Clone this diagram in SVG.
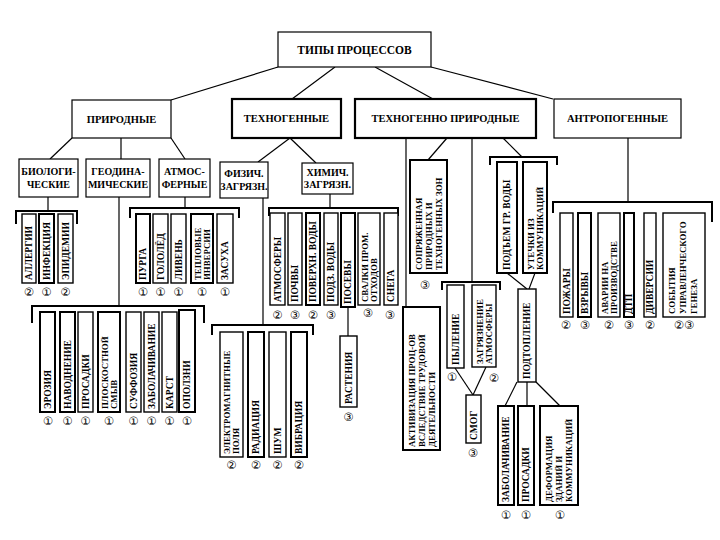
<svg xmlns="http://www.w3.org/2000/svg" width="720" height="540" viewBox="0 0 720 540">
<style>
rect{fill:#fff;stroke:#000;stroke-width:1.2}
rect.b{stroke-width:2.2}
.lf rect{stroke-width:1.4}
.lf rect.b{stroke-width:2}
text{font-family:"Liberation Serif","Times New Roman",serif;font-weight:bold;fill:#000}
.t1{font-size:11.5px;text-anchor:middle}
.t2{font-size:10.5px;text-anchor:middle}
.t3{font-size:10px;text-anchor:middle}
.lf text{font-size:9.5px}
.lf text.s{font-size:8.8px}
.num{font-family:"DejaVu Sans",sans-serif;font-weight:normal;font-size:11.5px;text-anchor:middle}
#connectors path,#connectors line{stroke:#000;fill:none;stroke-width:1.2}
#connectors .br{stroke-width:2}
</style>
<rect x="0" y="0" width="720" height="540" style="stroke:none"/>
<g id="connectors">
<line x1="278" y1="67" x2="171" y2="100"/>
<line x1="335" y1="67" x2="292" y2="99"/>
<line x1="375" y1="67" x2="433" y2="99"/>
<line x1="431" y1="67" x2="553" y2="99"/>
<line x1="72" y1="138" x2="50" y2="159"/>
<line x1="121" y1="138" x2="121" y2="159"/>
<line x1="171" y1="138" x2="185" y2="159"/>
<line x1="290" y1="138" x2="258" y2="162"/>
<line x1="290" y1="138" x2="316" y2="163"/>
<line x1="48" y1="197" x2="48" y2="211"/>
<line x1="119" y1="197" x2="119" y2="306"/>
<line x1="185" y1="197" x2="185" y2="208"/>
<line x1="263" y1="198" x2="263" y2="325"/>
<line x1="330" y1="194" x2="330" y2="208"/>
<line x1="348" y1="307" x2="348" y2="336"/>
<line x1="406" y1="138" x2="406" y2="307"/>
<line x1="447" y1="138" x2="428" y2="160"/>
<line x1="472" y1="138" x2="472" y2="282"/>
<line x1="503" y1="138" x2="522" y2="157"/>
<line x1="507" y1="273" x2="527" y2="289"/>
<line x1="535" y1="273" x2="529" y2="289"/>
<line x1="455" y1="368" x2="473" y2="395"/>
<line x1="486" y1="367" x2="473" y2="395"/>
<line x1="517" y1="382" x2="505" y2="406"/>
<line x1="527" y1="382" x2="527" y2="406"/>
<line x1="536" y1="382" x2="560" y2="406"/>
<line x1="628" y1="138" x2="628" y2="202"/>
<path class="br" d="M16 224V211H77V224"/>
<path class="br" d="M130 218V208H239V218"/>
<path class="br" d="M32 323V306H204V323"/>
<path class="br" d="M212 335V325H313V335"/>
<path class="br" d="M269 216V208H398V216"/>
<path class="br" d="M442 290V282H500V290"/>
<path class="br" d="M490 165V157H557V165"/>
<path class="br" d="M553 213V202H712V222"/>
</g>

<g id="title"><rect x="278" y="32" width="153" height="35"/><text class="t1" x="354.5" y="54">ТИПЫ ПРОЦЕССОВ</text></g>
<g id="prirodnye"><rect x="72" y="100" width="99" height="38"/><text class="t2" x="121.5" y="123">ПРИРОДНЫЕ</text></g>
<g id="tehnogennye"><rect class="b" x="232" y="99" width="109" height="39"/><text class="t2" x="286.5" y="122">ТЕХНОГЕННЫЕ</text></g>
<g id="tehnoprirodnye"><rect class="b" x="355" y="99" width="181" height="39"/><text class="t2" x="445.5" y="122">ТЕХНОГЕННО ПРИРОДНЫЕ</text></g>
<g id="antropogennye"><rect x="554" y="99" width="127" height="39"/><text class="t2" x="617.5" y="122">АНТРОПОГЕННЫЕ</text></g>

<g id="biolog"><rect x="19" y="159" width="59" height="38"/><text class="t3" x="48.5" y="175">БИОЛОГИ-</text><text class="t3" x="48.5" y="188">ЧЕСКИЕ</text></g>
<g id="geodin"><rect x="86" y="159" width="64" height="38"/><text class="t3" x="118" y="175">ГЕОДИНА-</text><text class="t3" x="118" y="188">МИЧЕСКИЕ</text></g>
<g id="atmos"><rect x="159" y="159" width="51" height="38"/><text class="t3" x="184.5" y="175">АТМОС-</text><text class="t3" x="184.5" y="188">ФЕРНЫЕ</text></g>
<g id="fizich"><rect x="220" y="162" width="48" height="36"/><text class="t3" x="244" y="177">ФИЗИЧ.</text><text class="t3" x="244" y="190">ЗАГРЯЗН.</text></g>
<g id="himich"><rect x="302" y="163" width="51" height="31"/><text class="t3" x="327.5" y="176">ХИМИЧ.</text><text class="t3" x="327.5" y="188">ЗАГРЯЗН.</text></g>

<!-- biological leaves -->
<g id="allergii" class="lf"><rect x="22" y="214" width="14" height="69"/><text transform="translate(29,283) rotate(-90)" x="3" y="3.3">АЛЛЕРГИИ</text></g>
<g id="infekcia" class="lf"><rect class="b" x="39" y="214" width="15" height="69"/><text transform="translate(46.5,283) rotate(-90)" x="3" y="3.3">ИНФЕКЦИЯ</text></g>
<g id="epidemii" class="lf"><rect x="58" y="214" width="15" height="69"/><text transform="translate(65.5,283) rotate(-90)" x="3" y="3.3">ЭПИДЕМИИ</text></g>
<text class="num" x="29" y="296">②</text><text class="num" x="46.5" y="296">①</text><text class="num" x="65.5" y="296">②</text>

<!-- atmospheric leaves -->
<g id="purga" class="lf"><rect class="b" x="136" y="214" width="14" height="69"/><text transform="translate(143,283) rotate(-90)" x="3" y="3.3">ПУРГА</text></g>
<g id="gololed" class="lf"><rect x="153" y="214" width="15" height="69"/><text transform="translate(160.5,283) rotate(-90)" x="3" y="3.3">ГОЛОЛЁД</text></g>
<g id="liven" class="lf"><rect x="171" y="214" width="15" height="69"/><text transform="translate(178.5,283) rotate(-90)" x="3" y="3.3">ЛИВЕНЬ</text></g>
<g id="inversii" class="lf"><rect class="b" x="191" y="214" width="22" height="69"/><text class="s" transform="translate(202,283) rotate(-90)"><tspan x="3" y="-1.5">ТЕПЛОВЫЕ</tspan><tspan x="3" y="7.5">ИНВЕРСИИ</tspan></text></g>
<g id="zasuha" class="lf"><rect x="217" y="214" width="16" height="69"/><text transform="translate(225,283) rotate(-90)" x="3" y="3.3">ЗАСУХА</text></g>
<text class="num" x="143" y="296">①</text><text class="num" x="160.5" y="296">①</text><text class="num" x="178.5" y="296">①</text><text class="num" x="202" y="296">①</text><text class="num" x="225" y="296">①</text>

<!-- geodynamic leaves -->
<g id="erozia" class="lf"><rect class="b" x="40" y="312" width="15" height="100"/><text transform="translate(47.5,412) rotate(-90)" x="3" y="3.3">ЭРОЗИЯ</text></g>
<g id="navodnenie" class="lf"><rect class="b" x="60" y="312" width="15" height="100"/><text transform="translate(67.5,412) rotate(-90)" x="3" y="3.3">НАВОДНЕНИЕ</text></g>
<g id="prosadki1" class="lf"><rect x="78" y="312" width="15" height="100"/><text transform="translate(85.5,412) rotate(-90)" x="3" y="3.3">ПРОСАДКИ</text></g>
<g id="smyv" class="lf"><rect class="b" x="98" y="312" width="22" height="100"/><text class="s" transform="translate(109,412) rotate(-90)"><tspan x="3" y="-1.5">ПЛОСКОСТНОЙ</tspan><tspan x="3" y="7.5">СМЫВ</tspan></text></g>
<g id="suffozia" class="lf"><rect x="126" y="312" width="15" height="100"/><text transform="translate(133.5,412) rotate(-90)" x="3" y="3.3">СУФФОЗИЯ</text></g>
<g id="zabolach1" class="lf"><rect x="144" y="312" width="15" height="100"/><text transform="translate(151.5,412) rotate(-90)" x="3" y="3.3">ЗАБОЛАЧИВАНИЕ</text></g>
<g id="karst" class="lf"><rect x="162" y="312" width="15" height="100"/><text transform="translate(169.5,412) rotate(-90)" x="3" y="3.3">КАРСТ</text></g>
<g id="opolzni" class="lf"><rect class="b" x="179" y="310" width="16" height="102"/><text transform="translate(187,412) rotate(-90)" x="3" y="3.3">ОПОЛЗНИ</text></g>
<text class="num" x="48" y="425">①</text><text class="num" x="67.5" y="425">①</text><text class="num" x="85.5" y="425">①</text><text class="num" x="109" y="425">①</text><text class="num" x="133.5" y="425">①</text><text class="num" x="151.5" y="425">①</text><text class="num" x="169.5" y="425">①</text><text class="num" x="187" y="425">①</text>

<!-- physical pollution leaves -->
<g id="elmag" class="lf"><rect x="220" y="332" width="23" height="125"/><text class="s" transform="translate(231.5,457) rotate(-90)"><tspan x="3" y="-1.5">ЭЛЕКТРОМАГНИТНЫЕ</tspan><tspan x="3" y="7.5">ПОЛЯ</tspan></text></g>
<g id="radiacia" class="lf"><rect class="b" x="248" y="332" width="16" height="125"/><text transform="translate(256,457) rotate(-90)" x="3" y="3.3">РАДИАЦИЯ</text></g>
<g id="shum" class="lf"><rect x="269" y="332" width="17" height="125"/><text transform="translate(277.5,457) rotate(-90)" x="3" y="3.3">ШУМ</text></g>
<g id="vibracia" class="lf"><rect class="b" x="291" y="332" width="16" height="125"/><text transform="translate(299,457) rotate(-90)" x="3" y="3.3">ВИБРАЦИЯ</text></g>
<text class="num" x="231.5" y="469">②</text><text class="num" x="256" y="469">②</text><text class="num" x="277.5" y="469">②</text><text class="num" x="299" y="469">②</text>

<!-- chemical pollution leaves -->
<g id="atmosfery" class="lf"><rect x="270" y="213" width="15" height="92"/><text transform="translate(277.5,305) rotate(-90)" x="3" y="3.3">АТМОСФЕРЫ</text></g>
<g id="pochvy" class="lf"><rect x="288" y="213" width="14" height="92"/><text transform="translate(295,305) rotate(-90)" x="3" y="3.3">ПОЧВЫ</text></g>
<g id="poverhn" class="lf"><rect class="b" x="306" y="213" width="14" height="92"/><text transform="translate(313,305) rotate(-90)" x="3" y="3.3">ПОВЕРХН. ВОДЫ</text></g>
<g id="podz" class="lf"><rect x="324" y="213" width="14" height="92"/><text transform="translate(331,305) rotate(-90)" x="3" y="3.3">ПОДЗ. ВОДЫ</text></g>
<g id="posevy" class="lf"><rect class="b" x="341" y="213" width="14" height="94"/><text transform="translate(348,307) rotate(-90)" x="3" y="3.3">ПОСЕВЫ</text></g>
<g id="svalki" class="lf"><rect x="358" y="213" width="22" height="92"/><text class="s" transform="translate(369,305) rotate(-90)"><tspan x="3" y="-1.5">СВАЛКИ ПРОМ.</tspan><tspan x="3" y="7.5">ОТХОДОВ</tspan></text></g>
<g id="snega" class="lf"><rect x="384" y="213" width="14" height="92"/><text transform="translate(391,305) rotate(-90)" x="3" y="3.3">СНЕГА</text></g>
<text class="num" x="277.5" y="319">②</text><text class="num" x="295" y="319">③</text><text class="num" x="313" y="319">②</text><text class="num" x="331" y="319">③</text><text class="num" x="368" y="317">③</text><text class="num" x="390" y="319">③</text>
<g id="rastenia" class="lf"><rect x="340" y="336" width="17" height="71"/><text transform="translate(348.5,407) rotate(-90)" x="3" y="3.3">РАСТЕНИЯ</text></g>
<text class="num" x="348.5" y="421">③</text>

<!-- technogenic-natural -->
<g id="sopryazh" class="lf"><rect class="b" x="410" y="160" width="37" height="113"/><text class="s" transform="translate(428.5,273) rotate(-90)"><tspan x="3" y="-7">СОПРЯЖЕННАЯ</tspan><tspan x="3" y="3">ПРИРОДНЫХ И</tspan><tspan x="3" y="13">ТЕХНОГЕННЫХ ЗОН</tspan></text></g>
<text class="num" x="425" y="289">③</text>
<g id="aktiv" class="lf"><rect class="b" x="403" y="307" width="37" height="143"/><text class="s" transform="translate(421.5,450) rotate(-90)"><tspan x="3" y="-7">АКТИВИЗАЦИЯ ПРОЦ-ОВ</tspan><tspan x="3" y="3">ВСЛЕДСТВИЕ ТРУДОВОЙ</tspan><tspan x="3" y="13">ДЕЯТЕЛЬНОСТИ</tspan></text></g>
<g id="pylenie" class="lf"><rect x="447" y="285" width="17" height="83"/><text transform="translate(455.5,368) rotate(-90)" x="3" y="3.3">ПЫЛЕНИЕ</text></g>
<g id="zagr-atm" class="lf"><rect x="472" y="285" width="24" height="82"/><text class="s" transform="translate(484,367) rotate(-90)"><tspan x="3" y="-1.5">ЗАГРЯЗНЕНИЕ</tspan><tspan x="3" y="7.5">АТМОСФЕРЫ</tspan></text></g>
<text class="num" x="452" y="381">①</text><text class="num" x="494" y="382">②</text>
<g id="smog" class="lf"><rect x="466" y="395" width="15" height="48"/><text transform="translate(473.5,443) rotate(-90)" x="3" y="3.3">СМОГ</text></g>
<text class="num" x="473" y="457">③</text>
<g id="podyem" class="lf"><rect class="b" x="497" y="162" width="20" height="111"/><text transform="translate(507,273) rotate(-90)" x="3" y="3.3">ПОДЪЕМ ГР. ВОДЫ</text></g>
<g id="utechki" class="lf"><rect class="b" x="523" y="162" width="24" height="111"/><text class="s" transform="translate(535,273) rotate(-90)"><tspan x="3" y="-1.5">УТЕЧКИ ИЗ</tspan><tspan x="3" y="7.5">КОММУНИКАЦИЙ</tspan></text></g>
<g id="podtoplenie" class="lf"><rect x="518" y="289" width="18" height="93"/><text transform="translate(527,382) rotate(-90)" x="3" y="3.3">ПОДТОПЛЕНИЕ</text></g>
<g id="zabolach2" class="lf"><rect class="b" x="498" y="406" width="16" height="99"/><text transform="translate(506,505) rotate(-90)" x="3" y="3.3">ЗАБОЛАЧИВАНИЕ</text></g>
<g id="prosadki2" class="lf"><rect class="b" x="518" y="406" width="16" height="99"/><text transform="translate(526,505) rotate(-90)" x="3" y="3.3">ПРОСАДКИ</text></g>
<g id="deformacia" class="lf"><rect class="b" x="540" y="406" width="38" height="99"/><text class="s" transform="translate(559,505) rotate(-90)"><tspan x="3" y="-7">ДЕФОРМАЦИЯ</tspan><tspan x="3" y="3">ЗДАНИЙ И</tspan><tspan x="3" y="13">КОММУНИКАЦИЙ</tspan></text></g>
<text class="num" x="506" y="519">①</text><text class="num" x="526" y="519">①</text><text class="num" x="560" y="519">①</text>

<!-- anthropogenic leaves -->
<g id="pozhary" class="lf"><rect x="560" y="213" width="13" height="104"/><text transform="translate(566.5,317) rotate(-90)" x="3" y="3.3">ПОЖАРЫ</text></g>
<g id="vzryvy" class="lf"><rect class="b" x="578" y="213" width="13" height="104"/><text transform="translate(584.5,317) rotate(-90)" x="3" y="3.3">ВЗРЫВЫ</text></g>
<g id="avarii" class="lf"><rect x="598" y="213" width="22" height="104"/><text class="s" transform="translate(609,317) rotate(-90)"><tspan x="3" y="-1.5">АВАРИИ НА</tspan><tspan x="3" y="7.5">ПРОИЗВОДСТВЕ</tspan></text></g>
<g id="dtp" class="lf"><rect class="b" x="624" y="213" width="10" height="104"/><text transform="translate(629,317) rotate(-90)" x="3" y="3.3">ДТП</text></g>
<g id="diversii" class="lf"><rect x="644" y="213" width="12" height="104"/><text transform="translate(650,317) rotate(-90)" x="3" y="3.3">ДИВЕРСИИ</text></g>
<g id="sobytia" class="lf"><rect x="663" y="213" width="42" height="104"/><text class="s" transform="translate(684,317) rotate(-90)"><tspan x="3" y="-9">СОБЫТИЯ</tspan><tspan x="3" y="2">УПРАВЛЕНЧЕСКОГО</tspan><tspan x="3" y="13">ГЕНЕЗА</tspan></text></g>
<text class="num" x="566" y="329">②</text><text class="num" x="585" y="329">③</text><text class="num" x="609" y="329">②</text><text class="num" x="629" y="329">③</text><text class="num" x="650" y="329">②</text><text class="num" x="684" y="329">②③</text>
</svg>
